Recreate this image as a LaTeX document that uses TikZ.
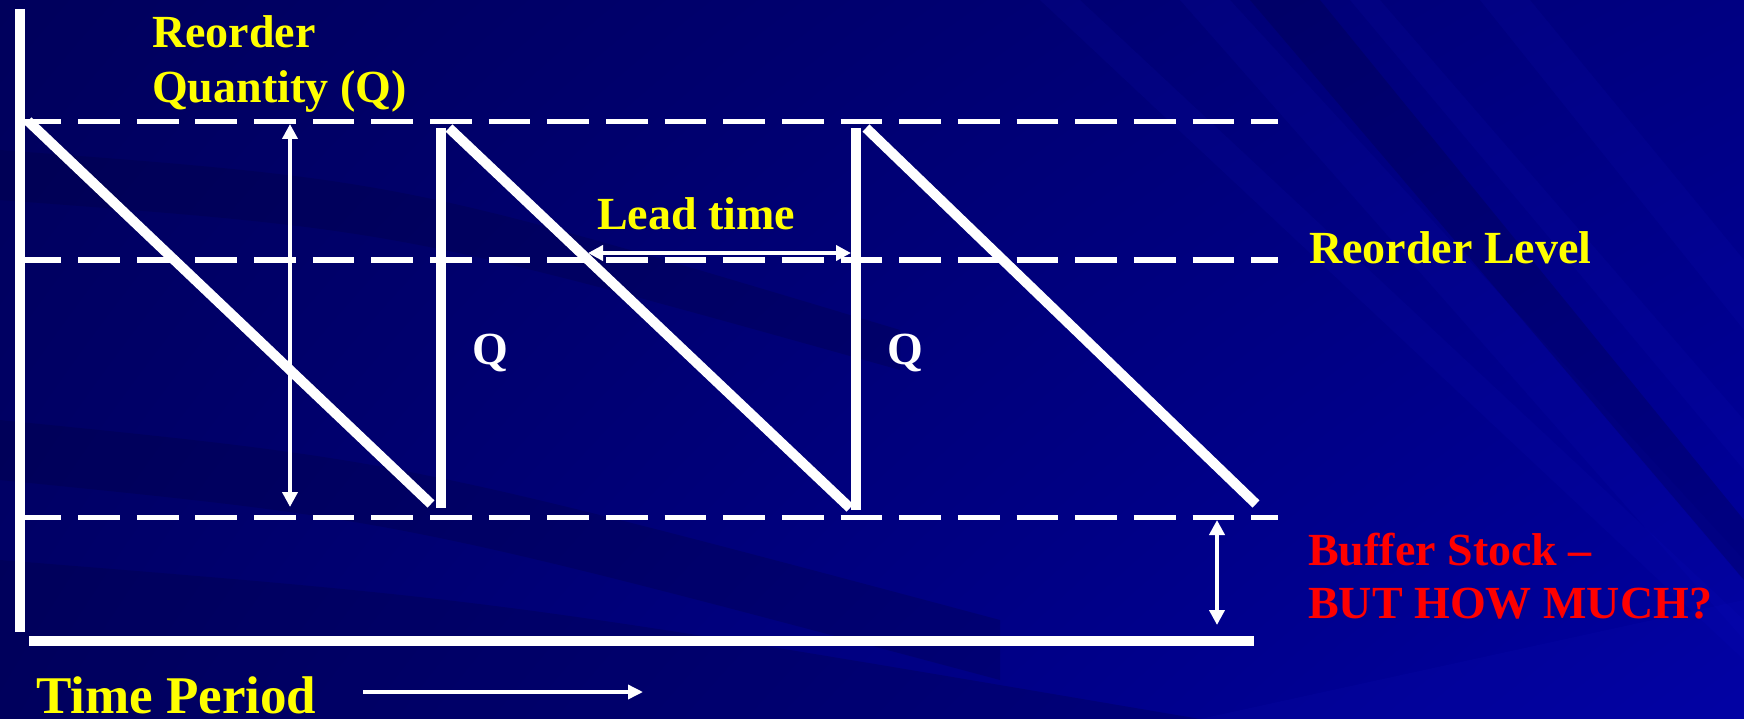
\documentclass[tikz,border=0pt]{standalone}
\usepackage{fontspec}
\setmainfont{Liberation Serif}
\usetikzlibrary{arrows.meta,shadings}
\definecolor{bgUL}{RGB}{0,0,92}
\definecolor{bgUR}{RGB}{0,0,130}
\definecolor{bgLL}{RGB}{0,0,105}
\definecolor{bgLR}{RGB}{0,0,160}
\definecolor{streakLight}{RGB}{20,20,200}
\definecolor{streakDark}{RGB}{0,0,60}
\definecolor{txtYellow}{RGB}{255,255,0}
\definecolor{txtRed}{RGB}{255,0,0}
\begin{document}
\begin{tikzpicture}[x=1pt,y=-1pt,
  axisline/.style={draw=white,line width=10pt},
  sawline/.style={draw=white,line width=10pt},
  dashline/.style={draw=white,line width=5pt,dash pattern=on 41.7pt off 16.95pt},
  dimarrow/.style={draw=white,line width=4.5pt,{Triangle[length=15pt,width=15pt]}-{Triangle[length=15pt,width=15pt]}},
  onearrow/.style={draw=white,line width=3.5pt,-{Triangle[length=15pt,width=14pt]}},
  ylabel/.style={text=txtYellow,font=\bfseries\fontsize{46}{52}\selectfont,inner sep=0pt,anchor=base west},
  rlabel/.style={text=txtRed,font=\bfseries\fontsize{46}{53}\selectfont,inner sep=0pt,anchor=base west},
  wlabel/.style={text=white,font=\bfseries\fontsize{46}{52}\selectfont,inner sep=0pt,anchor=base west},
  lightstreak/.style={fill=streakLight,fill opacity=0.10},
  darkstreak/.style={fill=streakDark,fill opacity=0.25}]
\useasboundingbox (0,0) rectangle (1744,719);
% background
\shade[upper left=bgUL,upper right=bgUR,lower left=bgLL,lower right=bgLR] (0,0) rectangle (1744,719);
\begin{scope}
\clip (0,0) rectangle (1744,719);
\fill[darkstreak] (0,150) .. controls (400,180) .. (900,330) -- (900,370) .. controls (400,230) .. (0,200) -- cycle;
\fill[darkstreak] (0,420) .. controls (400,460) .. (1000,620) -- (1000,680) .. controls (400,520) .. (0,480) -- cycle;
\fill[darkstreak] (0,560) .. controls (500,600) .. (1200,719) -- (0,719) -- cycle;
\fill[lightstreak] (1180,0) -- (1230,0) -- (1744,560) -- (1744,640) -- cycle;
\fill[lightstreak] (1350,0) -- (1380,0) -- (1744,420) -- (1744,470) -- cycle;
\fill[lightstreak] (1480,0) -- (1530,0) -- (1744,260) -- (1744,330) -- cycle;
\fill[lightstreak] (1040,0) -- (1080,0) -- (1744,620) -- (1744,660) -- cycle;
\fill[darkstreak] (1250,0) -- (1320,0) -- (1744,520) -- (1744,580) -- cycle;
\fill[lightstreak] (1200,719) -- (1744,719) -- (1744,600) -- cycle;
\end{scope}
% coordinates
\coordinate (axT) at (20,9);
\coordinate (axB) at (20,632);
\coordinate (hxL) at (29,641);
\coordinate (hxR) at (1254,641);
\coordinate (tL) at (19.5,122);
\coordinate (tR) at (1278,122);
\coordinate (mL) at (19.5,260);
\coordinate (mR) at (1278,260);
\coordinate (bL) at (19.5,517);
\coordinate (bR) at (1278,517);
\coordinate (d1a) at (28,121);
\coordinate (d1b) at (431,504);
\coordinate (v1a) at (441,128);
\coordinate (v1b) at (441,508);
\coordinate (d2a) at (449,128);
\coordinate (d2b) at (850,508);
\coordinate (v2a) at (856,128);
\coordinate (v2b) at (856,510);
\coordinate (d3a) at (866,128);
\coordinate (d3b) at (1256,504);
\coordinate (qT) at (290,124);
\coordinate (qB) at (290,507);
\coordinate (ltL) at (588,253);
\coordinate (ltR) at (851,253);
\coordinate (bsT) at (1217,520);
\coordinate (bsB) at (1217,625);
\coordinate (tpA) at (363,692);
\coordinate (tpB) at (643,692);
% dashed levels
\draw[dashline] (tL) -- (tR);
\draw[dashline] (mL) -- (mR);
\draw[dashline] (bL) -- (bR);
% axes
\draw[axisline] (axT) -- (axB);
\draw[axisline] (hxL) -- (hxR);
% sawtooth
\draw[sawline] (d1a) -- (d1b);
\draw[sawline] (v1a) -- (v1b);
\draw[sawline] (d2a) -- (d2b);
\draw[sawline] (v2a) -- (v2b);
\draw[sawline] (d3a) -- (d3b);
% arrows
\draw[dimarrow] (qT) -- (qB);
\draw[dimarrow] (ltL) -- (ltR);
\draw[dimarrow] (bsT) -- (bsB);
\draw[onearrow] (tpA) -- (tpB);
% labels (multi-line nodes: base = last line's baseline)
\node[ylabel,align=left,font=\bfseries\fontsize{46}{55}\selectfont] (rqq) at (152,103) {Reorder\\Quantity (Q)};
\node[ylabel] (lt) at (597,230) {Lead time};
\node[ylabel] (rl) at (1309,263) {Reorder Level};
\node[wlabel] (q1) at (472,364) {Q};
\node[wlabel] (q2) at (887,364) {Q};
\node[rlabel,align=left] (bs) at (1308,618) {Buffer Stock –\\BUT HOW MUCH?};
\node[ylabel,font=\bfseries\fontsize{53}{60}\selectfont] (tp) at (36,713) {Time Period};
\end{tikzpicture}
\end{document}
